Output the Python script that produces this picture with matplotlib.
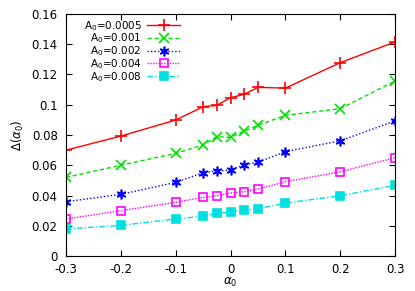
import matplotlib
matplotlib.use('Agg')
import matplotlib.pyplot as plt

alpha0 = [-0.3, -0.2, -0.1, -0.05, -0.025, 0, 0.025, 0.05, 0.1, 0.2, 0.3]
d_0005 = [0.070, 0.0793, 0.0899, 0.0987, 0.0996, 0.1047, 0.1069, 0.1115, 0.111, 0.1278, 0.1415]
d_001 = [0.052, 0.060, 0.0679, 0.0734, 0.0789, 0.0785, 0.0826, 0.0864, 0.093, 0.0974, 0.1157]
d_002 = [0.0359, 0.0408, 0.0487, 0.0551, 0.0562, 0.0569, 0.0602, 0.0621, 0.069, 0.0762, 0.0893]
d_004 = [0.0245, 0.030, 0.0355, 0.0388, 0.0399, 0.0417, 0.0425, 0.0443, 0.0491, 0.0557, 0.065]
d_008 = [0.0179, 0.0203, 0.0245, 0.0264, 0.0282, 0.0293, 0.0302, 0.0313, 0.035, 0.0399, 0.0467]

labels = ['0.0005', '0.001', '0.002', '0.004', '0.008']
yticks = [0, 0.02, 0.04, 0.06, 0.08, 0.1, 0.12, 0.14, 0.16]
xticks = [-0.3, -0.2, -0.1, 0, 0.1, 0.2, 0.3]

plt.rcParams['font.size'] = 8.5

fig = plt.figure(figsize=(4.15, 2.91), dpi=100)
ax = fig.add_axes([0.159, 0.12, 0.793, 0.832])

styles = [
    dict(color='#ff0000', ls='-', marker='+', ms=8, mfc='none'),
    dict(color='#00e000', ls=(0, (3, 2)), marker='x', ms=6.5, mfc='none'),
    dict(color='#0000ff', ls=(0, (1, 1.5)), marker=(6, 2, 0), ms=7, mfc='none'),
    dict(color='#ff00ff', ls=(0, (1, 1)), marker='s', ms=6, mfc='none'),
    dict(color='#00e0e0', ls=(0, (4, 1.5, 1, 1.5)), marker='s', ms=5.5),
]
for ys, lab, st in zip([d_0005, d_001, d_002, d_004, d_008], labels, styles):
    ax.plot(alpha0, ys, lw=1, mew=1.2, label=r'A$_0$=' + lab, **st)

ax.set_xlim(-0.3, 0.3)
ax.set_ylim(0, 0.16)
ax.set_xticks(xticks)
ax.set_xticklabels(['-0.3', '-0.2', '-0.1', '0', '0.1', '0.2', '0.3'])
ax.set_yticks(yticks)
ax.set_yticklabels(['0', '0.02', '0.04', '0.06', '0.08', '0.1', '0.12', '0.14', '0.16'])
ax.tick_params(direction='in', top=True, right=True, length=4)
ax.tick_params(axis='x', pad=5)
ax.tick_params(axis='y', pad=6)
ax.set_xlabel(r'$\alpha_0$', labelpad=0)
ax.set_ylabel(r'$\Delta(\alpha_0)$', labelpad=4)

ax.legend(loc='upper right', bbox_to_anchor=(0.37, 1.01), frameon=False, markerfirst=False,
          fontsize=7.5, handlelength=3.2, labelspacing=-0.1, handletextpad=0.5, borderpad=0.2)

fig.savefig('out.png', dpi=100)
